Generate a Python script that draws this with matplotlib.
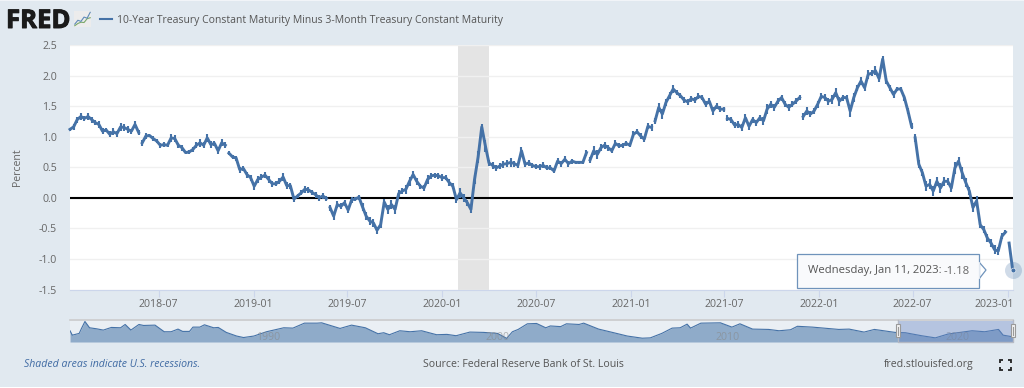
"""
FRED chart: 10-Year Treasury Constant Maturity Minus 3-Month Treasury Constant Maturity.
Weekly readings off the chart, plus the navigator strip below it.
"""

import numpy as np
import pandas as pd
import matplotlib
matplotlib.use('Agg')
import matplotlib.pyplot as plt
import matplotlib.patheffects as pe
from matplotlib.patches import Rectangle, Polygon, FancyBboxPatch
from matplotlib.transforms import ScaledTranslation

plt.rcParams['font.family'] = ['Open Sans', 'DejaVu Sans']

W, H = 1024, 388

# Weekly values, Wednesdays ending at 2023-01-11
spread = [
    1.12, 1.16, 1.28, 1.33, 1.30, 1.33, 1.28, 1.23, 1.20, 1.09, 1.11, 1.04, 1.08, 1.05, 1.16, 1.15,
    1.12, 1.09, 1.20, 1.07, 0.90, 1.01, 1.02, 0.97, 0.93, 0.86, 0.87, 0.86, 0.98, 0.97, 0.86, 0.82,
    0.74, 0.75, 0.79, 0.86, 0.90, 0.86, 0.98, 0.87, 0.89, 0.77, 0.90, 0.86, 0.73, 0.67, 0.65, 0.46,
    0.48, 0.38, 0.33, 0.19, 0.30, 0.34, 0.37, 0.30, 0.23, 0.23, 0.27, 0.34, 0.20, 0.20, -0.02, 0.03,
    0.08, 0.14, 0.13, 0.09, 0.05, 0.00, 0.03, -0.01, -0.16, -0.30, -0.11, -0.14, -0.08, -0.20,
    -0.03, -0.02, 0.01, -0.15, -0.30, -0.38, -0.41, -0.53, -0.44, -0.07, -0.19, -0.11, -0.19, 0.07,
    0.11, 0.14, 0.27, 0.38, 0.27, 0.19, 0.16, 0.30, 0.36, 0.37, 0.36, 0.33, 0.33, 0.25, 0.19, -0.03,
    0.08, 0.00, -0.08, -0.19, 0.30, 0.67, 1.16, 0.85, 0.57, 0.53, 0.49, 0.52, 0.55, 0.56, 0.58, 0.56,
    0.53, 0.77, 0.55, 0.57, 0.53, 0.51, 0.51, 0.53, 0.49, 0.49, 0.44, 0.60, 0.56, 0.63, 0.56, 0.60,
    0.58, 0.58, 0.58, 0.74, 0.62, 0.77, 0.71, 0.82, 0.86, 0.82, 0.77, 0.89, 0.85, 0.86, 0.89, 0.86,
    1.04, 1.08, 1.01, 0.96, 1.17, 1.15, 1.26, 1.48, 1.37, 1.56, 1.67, 1.78, 1.72, 1.67, 1.60, 1.57,
    1.62, 1.60, 1.66, 1.64, 1.53, 1.58, 1.42, 1.50, 1.45, 1.45, 1.30, 1.28, 1.19, 1.20, 1.15, 1.31,
    1.17, 1.28, 1.23, 1.31, 1.26, 1.45, 1.53, 1.48, 1.58, 1.64, 1.53, 1.48, 1.53, 1.58, 1.64, 1.33,
    1.42, 1.37, 1.42, 1.53, 1.66, 1.64, 1.58, 1.61, 1.72, 1.58, 1.64, 1.64, 1.42, 1.64, 1.80, 1.91,
    1.80, 2.02, 2.04, 2.08, 1.95, 2.27, 1.91, 1.80, 1.69, 1.78, 1.78, 1.64, 1.42, 1.17, 0.98, 0.55,
    0.41, 0.19, 0.22, 0.11, 0.27, 0.16, 0.27, 0.27, 0.16, 0.49, 0.60, 0.41, 0.25, 0.11, -0.16, -0.05,
    -0.44, -0.52, -0.66, -0.74, -0.85, -0.87, -0.63, -0.56, -0.74, -1.18,
]
# half the spread of the daily readings inside each week (thickness of the line)
swing = [
    0.03, 0.05, 0.05, 0.06, 0.04, 0.06, 0.05, 0.04, 0.05, 0.05, 0.04, 0.05, 0.06, 0.05, 0.06, 0.05,
    0.06, 0.04, 0.06, 0.04, 0.05, 0.05, 0.03, 0.04, 0.03, 0.04, 0.04, 0.03, 0.06, 0.05, 0.04, 0.05,
    0.03, 0.03, 0.04, 0.05, 0.07, 0.05, 0.06, 0.06, 0.04, 0.06, 0.06, 0.05, 0.03, 0.03, 0.04, 0.05,
    0.04, 0.05, 0.05, 0.06, 0.05, 0.05, 0.05, 0.05, 0.05, 0.04, 0.05, 0.06, 0.06, 0.05, 0.05, 0.04,
    0.04, 0.06, 0.05, 0.04, 0.05, 0.05, 0.05, 0.04, 0.05, 0.07, 0.05, 0.05, 0.05, 0.05,
    0.05, 0.04, 0.04, 0.06, 0.06, 0.07, 0.06, 0.06, 0.06, 0.05, 0.08, 0.07, 0.08, 0.05,
    0.05, 0.07, 0.07, 0.06, 0.06, 0.04, 0.05, 0.07, 0.05, 0.04, 0.05, 0.06, 0.04, 0.05, 0.05, 0.06,
    0.08, 0.07, 0.05, 0.06, 0.08, 0.10, 0.04, 0.10, 0.05, 0.06, 0.05, 0.05, 0.06, 0.06, 0.07, 0.05,
    0.04, 0.06, 0.05, 0.05, 0.04, 0.04, 0.05, 0.05, 0.04, 0.04, 0.04, 0.05, 0.05, 0.05, 0.05, 0.04,
    0.03, 0.03, 0.03, 0.05, 0.05, 0.07, 0.07, 0.06, 0.06, 0.05, 0.04, 0.05, 0.04, 0.04, 0.04, 0.03,
    0.05, 0.04, 0.05, 0.04, 0.05, 0.05, 0.05, 0.07, 0.08, 0.06, 0.06, 0.06, 0.04, 0.04, 0.05, 0.05,
    0.05, 0.05, 0.05, 0.04, 0.05, 0.05, 0.07, 0.05, 0.05, 0.04, 0.05, 0.05, 0.05, 0.05, 0.05, 0.06,
    0.06, 0.05, 0.05, 0.05, 0.07, 0.08, 0.06, 0.06, 0.05, 0.05, 0.05, 0.06, 0.05, 0.05, 0.04, 0.06,
    0.07, 0.05, 0.05, 0.06, 0.05, 0.06, 0.06, 0.07, 0.07, 0.07, 0.05, 0.05, 0.09, 0.07, 0.05, 0.06,
    0.06, 0.07, 0.05, 0.07, 0.06, 0.05, 0.05, 0.05, 0.05, 0.03, 0.04, 0.05, 0.05, 0.05, 0.06, 0.07,
    0.06, 0.08, 0.08, 0.08, 0.07, 0.08, 0.07, 0.06, 0.07, 0.10, 0.07, 0.10, 0.07, 0.07, 0.08, 0.08,
    0.05, 0.06, 0.06, 0.06, 0.07, 0.07, 0.05, 0.03, 0.02, 0.01,
]
# the line breaks after these weeks (missing days in the series)
gap_after = [19, 43, 71, 143, 161, 181, 202, 233, 259]

y_ticks = [-1.5, -1.0, -0.5, 0.0, 0.5, 1.0, 1.5, 2.0, 2.5]
x_ticks = ['2018-07-01', '2019-01-01', '2019-07-01', '2020-01-01', '2020-07-01',
           '2021-01-01', '2021-07-01', '2022-01-01', '2022-07-01', '2023-01-01']
x_labels = ['2018-07', '2019-01', '2019-07', '2020-01', '2020-07',
            '2021-01', '2021-07', '2022-01', '2022-07', '2023-01']
recession = ['2020-02-01', '2020-04-01']

# Navigator strip, whole history of the series
nav_years = [
    1982.0, 1982.1, 1982.4, 1982.5, 1982.65, 1982.85, 1983.15, 1983.45, 1983.8, 1984.2, 1984.4,
    1984.65, 1985.0, 1985.2, 1985.7, 1986.1, 1986.4, 1986.7, 1986.9, 1987.2, 1987.35, 1987.65,
    1987.85, 1988.25, 1988.45, 1988.8, 1989.25, 1989.55, 1990.0, 1990.55, 1991.3, 1991.7, 1992.2,
    1992.75, 1992.95, 1993.75, 1994.25, 1994.85, 1995.4, 1995.65, 1995.9, 1996.35, 1996.8, 1997.3,
    1997.95, 1998.4, 1998.8, 1999.4, 2000.0, 2000.6, 2001.0, 2001.25, 2001.5, 2001.9, 2002.3,
    2002.7, 2002.9, 2003.35, 2003.6, 2004.15, 2004.35, 2005.0, 2005.6, 2006.25, 2006.9, 2007.25,
    2007.75, 2008.2, 2008.55, 2008.85, 2009.0, 2009.45, 2010.3, 2010.8, 2011.15, 2011.7, 2012.4,
    2012.85, 2013.35, 2013.65, 2014.3, 2015.45, 2015.9, 2016.55, 2017.0, 2017.9, 2018.35, 2019.05,
    2019.65, 2020.2, 2021.25, 2021.8, 2022.4, 2022.6, 2023.03,
]
nav_values = [
    1.4, 0.07, 0.6, 2.1, 4.2, 2.3, 2.0, 1.6, 2.4, 2.3, 3.3,
    1.6, 3.3, 3.0, 3.1, 1.1, 1.1, 1.9, 1.2, 1.2, 2.5, 2.5,
    3.2, 2.3, 2.4, 0.9, -0.2, -0.65, -0.2, 1.1, 2.3, 2.2, 3.7,
    3.7, 3.8, 2.1, 3.1, 2.3, 0.5, 0.8, 0.2, 1.4, 1.1, 1.4,
    0.2, 0.3, -0.1, 1.0, 0.9, 0.6, -0.9, 1.1, 1.8, 3.5, 3.6,
    2.3, 2.85, 2.65, 3.5, 3.3, 3.7, 1.9, 0.9, -0.2, -0.85, -0.75,
    0.6, 2.2, 2.3, 3.4, 2.2, 3.7, 3.8, 2.5, 3.5, 1.9, 1.8,
    1.4, 1.7, 2.75, 2.5, 1.8, 1.9, 1.0, 1.8, 0.9, 0.8, -0.1,
    -0.75, 0.4, 1.4, 1.1, 1.8, 0.07, -0.45,
]
nav_labels = [1990, 2000, 2010, 2020]
nav_window = [2018.03, 2023.03]

# FRED logo sparkline
logo_blue = [0.18, 0.42, 0.35, 0.62, 0.55, 0.92]
logo_green = [0.08, 0.22, 0.30, 0.28, 0.52, 0.58]

BG = '#e1e9f0'
LINE = '#4572a7'
TEXT = '#666666'
DARK = '#555555'


def px_axes(fig, x0, y0, x1, y1, **kw):
    """Axes from pixel box, y counted from the top."""
    return fig.add_axes([x0 / W, 1 - y1 / H, (x1 - x0) / W, (y1 - y0) / H], **kw)


fig = plt.figure(figsize=(W / 100, H / 100), dpi=100, facecolor=BG)

# ============ Main plot ============
ax = px_axes(fig, 70, 45, 1012.7, 289.5, facecolor='white')
dates = pd.date_range(end='2023-01-11', periods=len(spread), freq='7D')
values = np.array(spread)
swings = np.array(swing)

ax.axvspan(pd.Timestamp(recession[0]), pd.Timestamp(recession[1]), color='#e4e4e4', lw=0, zorder=1)
ax.set_yticks(y_ticks)
ax.set_yticklabels([f'{v:.1f}' for v in y_ticks], color=TEXT, fontsize=7.6)
ax.set_xticks(pd.to_datetime(x_ticks))
ax.set_xticklabels(x_labels, color=TEXT, fontsize=7.6)
ax.tick_params(axis='y', length=0, pad=9.5)
ax.tick_params(axis='x', length=5, width=0.8, color='#ccd6eb', pad=1.5)
ax.grid(True, axis='y', color='#f0f0f0', linewidth=1, zorder=0)
ax.axhline(0, color='black', linewidth=1.5, zorder=2)
for side in ['top', 'left', 'right']:
    ax.spines[side].set_visible(False)
ax.spines['bottom'].set_color('#ccd6eb')

# last label sits inside the plot edge
last_label = ax.get_xticklabels()[-1]
last_label.set_transform(last_label.get_transform() + ScaledTranslation(-13 / 100, 0, fig.dpi_scale_trans))

start = 0
for stop in gap_after + [len(values) - 1]:
    ax.plot(dates[start:stop + 1], values[start:stop + 1], color=LINE, linewidth=2.1,
            zorder=3, clip_on=False)
    start = stop + 1
ax.vlines(dates, values - swings, values + swings, color=LINE, linewidth=1.5, zorder=3)

ax.set_xlim(dates[0], dates[-1])
ax.set_ylim(-1.5, 2.5)
ax.set_ylabel('Percent', color=TEXT, fontsize=7.6, labelpad=11)
ax.scatter(dates[-1:], values[-1:], s=150, color=LINE, alpha=0.25, linewidths=0, zorder=4, clip_on=False)
ax.scatter(dates[-1:], values[-1:], s=12, color=LINE, edgecolors='white', linewidths=0.4, zorder=5, clip_on=False)

# ============ Overlay in pixels (logo, tooltip, footer) ============
ov = fig.add_axes([0, 0, 1, 1], facecolor='none')
ov.set_xlim(0, W)
ov.set_ylim(H, 0)
ov.axis('off')

# page shows through along the top and bottom edges
ov.add_patch(Rectangle((0, 0), W, 1, facecolor='#f1f4f8', linewidth=0))
ov.add_patch(Rectangle((0, 386.5), W, 1.5, facecolor='white', linewidth=0))

# tooltip
ov.add_patch(Polygon([[979, 262], [986, 270], [979, 279]], closed=True, facecolor='white',
                     edgecolor='#6f93bb', linewidth=0.9, zorder=6))
ov.add_patch(Rectangle((797, 254), 182, 34, facecolor='#f9fafc', edgecolor='#6f93bb', linewidth=0.9, zorder=7))
ov.plot([979, 979], [263, 278], color='#f9fafc', linewidth=1.2, zorder=8)
ov.text(808, 271, 'Wednesday, Jan 11, 2023:', color=DARK, fontsize=8.1, va='center', ha='left', zorder=9)
ov.text(944, 271, '-1.18', color=TEXT, fontsize=8.1, va='center', ha='left', zorder=9)

# header
ov.text(6, 20.5, 'FRED', color='#1a1a1a', fontsize=18.5, fontweight='bold', va='center', ha='left',
        path_effects=[pe.withStroke(linewidth=0.7, foreground='#1a1a1a')])
ov.plot([100, 112], [19, 19], color=LINE, linewidth=1.5)
ov.text(117, 20.5, '10-Year Treasury Constant Maturity Minus 3-Month Treasury Constant Maturity',
        color=DARK, fontsize=7.5, va='center', ha='left')

logo = px_axes(fig, 74, 11, 91, 27, facecolor='#ececec')
logo.plot(logo_green, color='#7aa86a', linewidth=0.8)
logo.plot(logo_blue, color='#5f8bb8', linewidth=0.8)
logo.set_ylim(0, 1)
logo.set_xticks([])
logo.set_yticks([])
for spine in logo.spines.values():
    spine.set_visible(False)

# footer
ov.text(24, 364.5, 'Shaded areas indicate U.S. recessions.', color='#3f6aa3', fontsize=7.6,
        style='italic', va='center', ha='left')
ov.text(523, 364.5, 'Source: Federal Reserve Bank of St. Louis', color=DARK, fontsize=7.6,
        va='center', ha='center')
ov.text(974, 364.5, 'fred.stlouisfed.org', color=DARK, fontsize=7.6, va='center', ha='right')
for cx, cy, dx, dy in [(999.5, 359.5, 1, 1), (1010.5, 359.5, -1, 1), (999.5, 369.5, 1, -1), (1010.5, 369.5, -1, -1)]:
    ov.plot([cx + 3 * dx, cx, cx], [cy, cy, cy + 3 * dy], color='#222222', linewidth=1.3,
            solid_capstyle='butt', solid_joinstyle='miter')

# ============ Navigator ============
nav = px_axes(fig, 70, 320.5, 1013, 342, facecolor='#eaeff4')
nav.fill_between(nav_years, nav_values, -2, color='#8fabc9', linewidth=0)
nav.plot(nav_years, nav_values, color=LINE, linewidth=0.8)
nav.axhline(4.5, color='#cccccc', linewidth=1.2, clip_on=False)
nav.set_xlim(1982, 2023.03)
nav.set_ylim(-2, 4.5)
nav.set_xticks([])
nav.set_yticks([])
for spine in nav.spines.values():
    spine.set_visible(False)
for year in nav_labels:
    nav.text(year + 0.6, -0.5, str(year), color='#888888', alpha=0.6, fontsize=7.6, va='center', ha='center')
nav.axvspan(nav_window[0], nav_window[1], facecolor='#6685c2', alpha=0.4, lw=0, zorder=3)
nav.plot([nav_window[0], nav_window[0], nav_window[1], nav_window[1]], [4.5, -2, -2, 4.5],
         color='#b4b9c4', linewidth=1, zorder=4, clip_on=False)
for edge in nav_window:
    nav.add_patch(FancyBboxPatch((edge - 0.1, -0.6), 0.2, 3.9, boxstyle='square,pad=0',
                                 facecolor='#f2f2f2', edgecolor='#999999', linewidth=0.8,
                                 clip_on=False, zorder=5))
    nav.plot([edge, edge], [0.2, 2.5], color='#999999', linewidth=0.8, zorder=6, clip_on=False)

fig.savefig('out.png', dpi=100, facecolor=BG)
